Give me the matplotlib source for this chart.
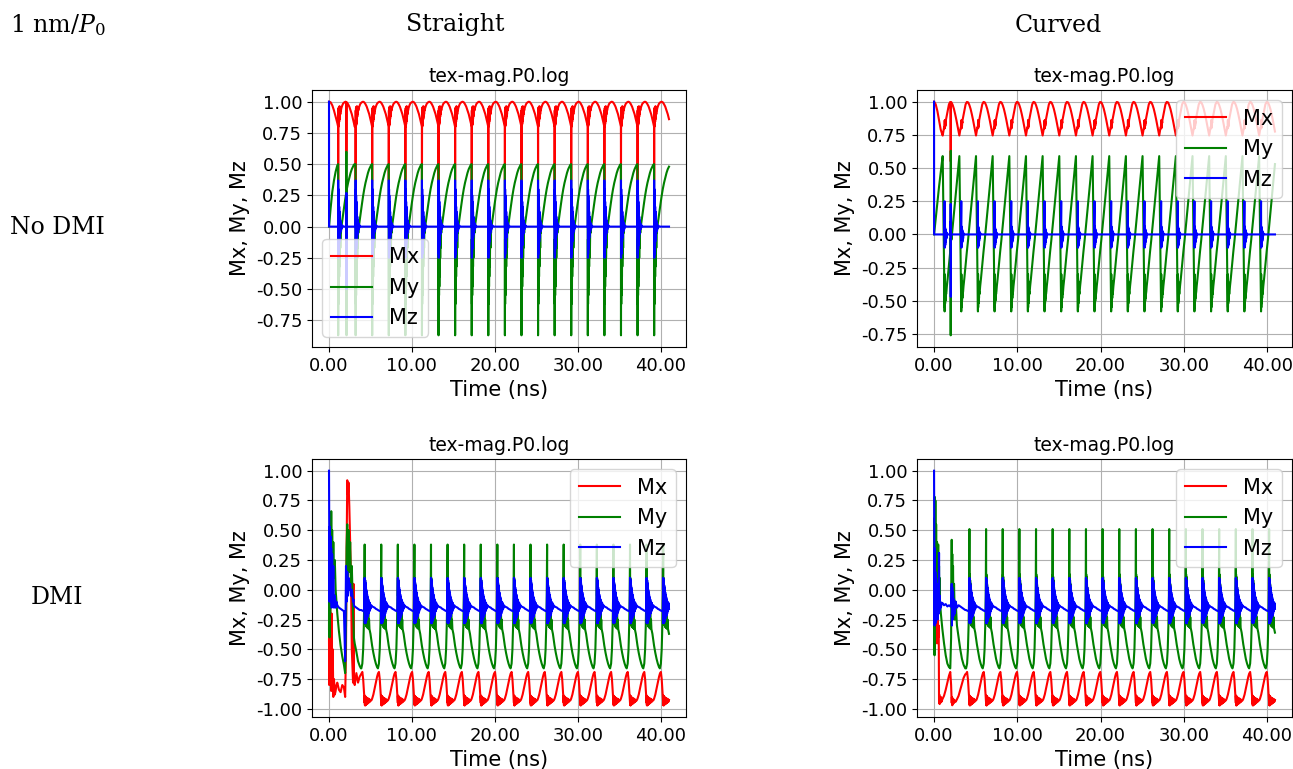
import matplotlib
matplotlib.use("Agg")
import matplotlib.pyplot as plt
import numpy as np
from matplotlib.ticker import FormatStrFormatter, MultipleLocator

plt.rcParams['mathtext.fontset'] = 'dejavuserif'

# ---------------- Straight, no DMI ----------------
A_init_t = [0.0, 0.005, 0.2, 0.4, 0.6, 0.8, 1.0, 1.09]
A_init_mx = [1.0, 1.0, 0.995, 0.97, 0.93, 0.88, 0.83, 0.80]
A_init_my = [0.0, 0.0, 0.15, 0.28, 0.37, 0.44, 0.49, 0.50]
A_init_mz = [1.0, 0.0, 0.0, 0.0, 0.0, 0.0, 0.0, 0.0]
A_starts = [1.1, 3.2, 5.2, 7.2, 9.2, 11.2, 13.2, 15.2, 17.2, 19.2, 21.2,
            23.2, 25.2, 27.2, 29.2, 31.2, 33.2, 35.2, 37.2, 39.2]
A_off = [0.0, 0.01, 0.025, 0.04, 0.055, 0.07, 0.085, 0.1, 0.115, 0.13,
         0.15, 0.17, 0.19, 0.21, 0.24, 0.27, 0.3, 0.34, 0.4, 0.5,
         0.6, 0.75, 0.9, 1.05, 1.2, 1.35, 1.5, 1.65, 1.8, 1.9, 1.99]
A_mx = [0.80, 0.37, 0.93, 0.80, 0.95, 0.81, 0.95, 0.82, 0.96, 0.84,
        0.96, 0.86, 0.96, 0.88, 0.96, 0.90, 0.95, 0.93, 0.95, 0.97,
        0.985, 0.995, 1.0, 0.995, 0.98, 0.96, 0.93, 0.90, 0.86, 0.83, 0.80]
A_my = [0.50, -0.87, -0.10, -0.62, -0.08, -0.55, -0.07, -0.48, -0.06, -0.40,
        -0.05, -0.32, -0.04, -0.25, -0.03, -0.17, -0.02, -0.05, 0.0, 0.05,
        0.10, 0.17, 0.24, 0.30, 0.35, 0.39, 0.43, 0.46, 0.48, 0.495, 0.50]
A_mz = [0.0, 0.37, -0.25, 0.30, -0.22, 0.25, -0.18, 0.20, -0.15, 0.16,
        -0.12, 0.12, -0.09, 0.08, -0.06, 0.05, -0.04, 0.03, -0.02, 0.01,
        0.0, 0.0, 0.0, 0.0, 0.0, 0.0, 0.0, 0.0, 0.0, 0.0, 0.0]
A_ev_t = [2.09, 2.1, 2.115, 2.13]
A_ev_mx = [0.99, 0.60, 0.97, 0.99]
A_ev_my = [0.27, 0.60, -0.87, 0.28]
A_ev_mz = [0.0, 0.27, -0.50, 0.0]
A_end = 41.0

# ---------------- Curved, no DMI ----------------
B_init_t = [0.0, 0.005, 0.2, 0.4, 0.6, 0.8, 0.95, 1.03]
B_init_mx = [1.0, 1.0, 0.98, 0.93, 0.86, 0.79, 0.76, 0.745]
B_init_my = [0.0, 0.0, 0.12, 0.24, 0.36, 0.47, 0.55, 0.59]
B_init_mz = [1.0, 0.0, 0.0, 0.0, 0.0, 0.0, 0.0, 0.0]
B_starts = [1.04, 3.04, 5.04, 7.04, 9.04, 11.04, 13.04, 15.04, 17.04, 19.04,
            21.04, 23.04, 25.04, 27.04, 29.04, 31.04, 33.04, 35.04, 37.04, 39.04]
B_off = [0.0, 0.06, 0.12, 0.18, 0.23, 0.245, 0.26, 0.275, 0.29, 0.305,
         0.32, 0.34, 0.36, 0.38, 0.41, 0.45, 0.5, 0.6, 0.75, 0.9,
         1.05, 1.2, 1.35, 1.5, 1.65, 1.8, 1.9, 1.99]
B_mx = [0.745, 0.77, 0.79, 0.81, 0.80, 0.86, 0.80, 0.86, 0.81, 0.85,
        0.82, 0.85, 0.84, 0.86, 0.87, 0.88, 0.90, 0.935, 0.98, 0.998,
        0.995, 0.975, 0.945, 0.905, 0.86, 0.81, 0.775, 0.745]
B_my = [0.59, 0.30, 0.0, -0.30, -0.58, -0.30, -0.55, -0.35, -0.52, -0.38,
        -0.50, -0.40, -0.48, -0.43, -0.45, -0.43, -0.39, -0.33, -0.23, -0.13,
        -0.04, 0.06, 0.16, 0.26, 0.36, 0.46, 0.53, 0.585]
B_mz = [0.0, 0.0, 0.0, 0.0, 0.25, -0.10, 0.06, -0.09, 0.05, -0.08,
        0.04, -0.06, 0.03, -0.05, 0.02, -0.03, 0.01, 0.0, 0.0, 0.0,
        0.0, 0.0, 0.0, 0.0, 0.0, 0.0, 0.0, 0.0]
B_ev_t = [1.99, 2.0, 2.01, 2.02, 2.03]
B_ev_mx = [0.995, 0.55, 0.99, 0.97, 0.995]
B_ev_my = [-0.03, -0.76, 0.63, -0.20, 0.0]
B_ev_mz = [0.0, 0.23, -0.47, 0.10, 0.0]
B_end = 41.0

# ---------------- Straight, DMI ----------------
C_init_t = [0.0, 0.03, 0.06, 0.1, 0.14, 0.18, 0.22, 0.27, 0.32, 0.38,
            0.45, 0.52, 0.6, 0.7, 0.8, 0.9, 1.0, 1.2, 1.4, 1.6,
            1.8, 1.95, 2.05, 2.12, 2.2, 2.28, 2.36, 2.45, 2.55, 2.65,
            2.75, 2.9, 2.95, 3.0, 3.1, 3.3, 3.5, 3.7, 3.85]
C_init_mx = [-0.42, -0.80, -0.35, -0.78, -0.15, -0.70, -0.25, -0.85, -0.20, -0.80,
             -0.50, -0.90, -0.75, -0.88, -0.85, -0.80, -0.78, -0.84, -0.86, -0.80,
             -0.82, -0.90, -0.50, 0.30, 0.92, 0.80, 0.90, 0.70, 0.40, 0.10,
             -0.50, -0.78, 0.05, -0.75, -0.80, -0.70, -0.78, -0.73, -0.71]
C_init_my = [-0.33, 0.45, -0.40, 0.50, -0.20, 0.55, -0.10, 0.66, 0.0, 0.50,
             0.10, 0.40, 0.10, 0.25, 0.0, -0.10, -0.20, -0.35, -0.47, -0.56,
             -0.63, -0.70, -0.30, 0.35, 0.55, 0.10, 0.50, 0.15, 0.40, 0.05,
             0.20, -0.20, -0.28, -0.40, -0.45, -0.52, -0.60, -0.64, -0.66]
C_init_mz = [1.0, 0.50, -0.10, 0.53, -0.05, 0.45, -0.10, 0.35, -0.15, 0.30,
             -0.10, 0.20, -0.15, -0.05, -0.15, -0.10, -0.13, -0.15, -0.16, -0.17,
             -0.18, -0.60, 0.20, -0.10, 0.15, -0.05, 0.10, 0.0, 0.05, -0.05,
             0.0, -0.10, -0.08, -0.13, -0.14, -0.15, -0.16, -0.17, -0.17]
C_starts = [3.9, 5.9, 7.9, 9.9, 11.9, 13.9, 15.9, 17.9, 19.9, 21.9,
            23.9, 25.9, 27.9, 29.9, 31.9, 33.9, 35.9, 37.9, 39.9]
C_off = [0.0, 0.12, 0.22, 0.3, 0.36, 0.4, 0.415, 0.43, 0.445, 0.46,
         0.475, 0.49, 0.505, 0.52, 0.54, 0.56, 0.58, 0.6, 0.62, 0.645,
         0.67, 0.7, 0.73, 0.76, 0.8, 0.84, 0.88, 0.93, 0.98, 1.04,
         1.1, 1.2, 1.3, 1.45, 1.6, 1.75, 1.9, 1.99]
C_mx = [-0.705, -0.69, -0.75, -0.84, -0.91, -0.95, -0.89, -0.97, -0.89, -0.97,
        -0.895, -0.97, -0.90, -0.965, -0.90, -0.965, -0.905, -0.96, -0.905, -0.96,
        -0.91, -0.955, -0.91, -0.955, -0.915, -0.95, -0.915, -0.945, -0.92, -0.94,
        -0.925, -0.93, -0.915, -0.88, -0.83, -0.78, -0.73, -0.705]
C_my = [-0.66, -0.62, -0.50, -0.30, -0.05, 0.38, -0.05, 0.10, -0.20, 0.08,
        -0.24, 0.05, -0.27, 0.03, -0.29, 0.0, -0.30, -0.04, -0.31, -0.08,
        -0.31, -0.12, -0.32, -0.16, -0.32, -0.20, -0.33, -0.25, -0.33, -0.35,
        -0.37, -0.42, -0.47, -0.53, -0.58, -0.62, -0.65, -0.66]
C_mz = [-0.17, -0.175, -0.178, -0.18, -0.18, 0.10, -0.28, 0.09, -0.28, 0.08,
        -0.28, 0.06, -0.28, 0.04, -0.27, 0.02, -0.26, 0.0, -0.25, -0.02,
        -0.24, -0.04, -0.23, -0.06, -0.22, -0.08, -0.20, -0.10, -0.18, -0.11,
        -0.16, -0.13, -0.14, -0.145, -0.15, -0.16, -0.165, -0.17]
C_end = 41.0

# ---------------- Curved, DMI ----------------
D_init_t = [0.0, 0.03, 0.06, 0.09, 0.12, 0.16, 0.2, 0.25, 0.3, 0.36,
            0.42, 0.5, 0.56, 0.6, 0.63, 0.67, 0.71, 0.76, 0.82, 0.9,
            1.0, 1.2, 1.4, 1.6, 1.8, 1.95, 2.05, 2.12, 2.15, 2.19,
            2.23, 2.28, 2.34, 2.4, 2.5, 2.6, 2.75, 2.95, 3.15, 3.35,
            3.55, 3.75]
D_init_mx = [-0.40, 0.20, 0.57, -0.10, 0.10, -0.30, -0.05, -0.35, -0.15, -0.45,
             -0.20, -0.40, -0.30, -0.95, -0.88, -0.96, -0.90, -0.95, -0.90, -0.94,
             -0.92, -0.89, -0.84, -0.78, -0.72, -0.69, -0.80, -0.95, -0.90, -0.97,
             -0.91, -0.96, -0.92, -0.95, -0.93, -0.94, -0.92, -0.89, -0.84, -0.79,
             -0.74, -0.71]
D_init_my = [-0.35, 0.60, -0.55, 0.78, -0.30, 0.75, -0.20, 0.55, -0.10, 0.40,
             0.0, 0.38, -0.05, 0.20, -0.05, 0.10, -0.10, -0.15, -0.20, -0.26,
             -0.33, -0.45, -0.55, -0.62, -0.65, -0.66, -0.40, 0.42, 0.0, 0.30,
             -0.15, 0.20, -0.20, 0.05, -0.25, -0.10, -0.30, -0.40, -0.50, -0.58,
             -0.63, -0.66]
D_init_mz = [1.0, 0.30, -0.30, 0.35, -0.25, 0.15, -0.28, 0.10, -0.20, 0.05,
             -0.25, 0.0, -0.20, 0.31, -0.18, -0.05, -0.16, -0.10, -0.15, -0.12,
             -0.11, -0.13, -0.12, -0.14, -0.13, -0.14, -0.14, 0.05, -0.30, 0.02,
             -0.25, -0.02, -0.22, -0.08, -0.20, -0.10, -0.15, -0.13, -0.14, -0.15,
             -0.16, -0.17]
D_starts = [3.85, 5.85, 7.85, 9.85, 11.85, 13.85, 15.85, 17.85, 19.85, 21.85,
            23.85, 25.85, 27.85, 29.85, 31.85, 33.85, 35.85, 37.85, 39.85]
D_off = C_off
D_mx = C_mx
D_my = [-0.66, -0.62, -0.50, -0.30, -0.05, 0.51, -0.05, 0.13, -0.20, 0.11,
        -0.24, 0.08, -0.26, 0.05, -0.28, 0.02, -0.29, -0.02, -0.30, -0.06,
        -0.30, -0.10, -0.31, -0.14, -0.31, -0.18, -0.32, -0.23, -0.32, -0.34,
        -0.36, -0.41, -0.46, -0.52, -0.58, -0.62, -0.65, -0.66]
D_mz = C_mz
D_end = 41.05


def series(init_t, init_v, starts, off, vals, t_end, ev_t=(), ev_v=()):
    t = list(init_t)
    v = list(init_v)
    for i, s in enumerate(starts):
        stop = starts[i + 1] if i + 1 < len(starts) else t_end + 1e-9
        for o, y in zip(off, vals):
            if s + o < stop and s + o <= t_end:
                t.append(s + o)
                v.append(y)
    t += list(ev_t)
    v += list(ev_v)
    t = np.array(t)
    v = np.array(v)
    idx = np.argsort(t, kind='stable')
    return t[idx], v[idx]


panels = [
    # (axes rect, init, starts, template, events, end, legend loc)
    ([312 / 1293, 1 - 347 / 769, 374 / 1293, 257 / 769],
     A_init_t, (A_init_mx, A_init_my, A_init_mz), A_starts, A_off,
     (A_mx, A_my, A_mz), A_ev_t, (A_ev_mx, A_ev_my, A_ev_mz), A_end, 'lower left'),
    ([917 / 1293, 1 - 347 / 769, 375 / 1293, 257 / 769],
     B_init_t, (B_init_mx, B_init_my, B_init_mz), B_starts, B_off,
     (B_mx, B_my, B_mz), B_ev_t, (B_ev_mx, B_ev_my, B_ev_mz), B_end, 'upper right'),
    ([312 / 1293, 1 - 717 / 769, 374 / 1293, 258 / 769],
     C_init_t, (C_init_mx, C_init_my, C_init_mz), C_starts, C_off,
     (C_mx, C_my, C_mz), [], ([], [], []), C_end, 'upper right'),
    ([917 / 1293, 1 - 717 / 769, 375 / 1293, 258 / 769],
     D_init_t, (D_init_mx, D_init_my, D_init_mz), D_starts, D_off,
     (D_mx, D_my, D_mz), [], ([], [], []), D_end, 'upper right'),
]

fig = plt.figure(figsize=(12.93, 7.69), dpi=100)

names = ['Mx', 'My', 'Mz']
colors = ['red', 'green', 'blue']

for rect, it, ivals, starts, off, tvals, evt, evv, tend, loc in panels:
    ax = fig.add_axes(rect)
    for k in range(3):
        t, v = series(it, ivals[k], starts, off, tvals[k], tend, evt, evv[k])
        ax.plot(t, v, color=colors[k], lw=1.5, label=names[k])
    ax.set_title('tex-mag.P0.log', fontsize=13.5)
    ax.set_xlabel('Time (ns)', fontsize=15)
    ax.set_ylabel('Mx, My, Mz', fontsize=15)
    ax.xaxis.set_major_locator(MultipleLocator(10))
    ax.yaxis.set_major_locator(MultipleLocator(0.25))
    ax.xaxis.set_major_formatter(FormatStrFormatter('%.2f'))
    ax.yaxis.set_major_formatter(FormatStrFormatter('%.2f'))
    ax.tick_params(labelsize=13)
    ax.grid(True)
    ax.legend(loc=loc, fontsize=15)

serif = dict(family='DejaVu Serif', fontsize=17, va='center')
fig.text(10 / 1293, 1 - 25 / 769, r'1 nm/$P_0$', ha='left', **serif)
fig.text(455 / 1293, 1 - 25 / 769, 'Straight', ha='center', **serif)
fig.text(1058 / 1293, 1 - 25 / 769, 'Curved', ha='center', **serif)
fig.text(57 / 1293, 1 - 228 / 769, 'No DMI', ha='center', **serif)
fig.text(57 / 1293, 1 - 598 / 769, 'DMI', ha='center', **serif)

fig.savefig('out.png', dpi=100)
